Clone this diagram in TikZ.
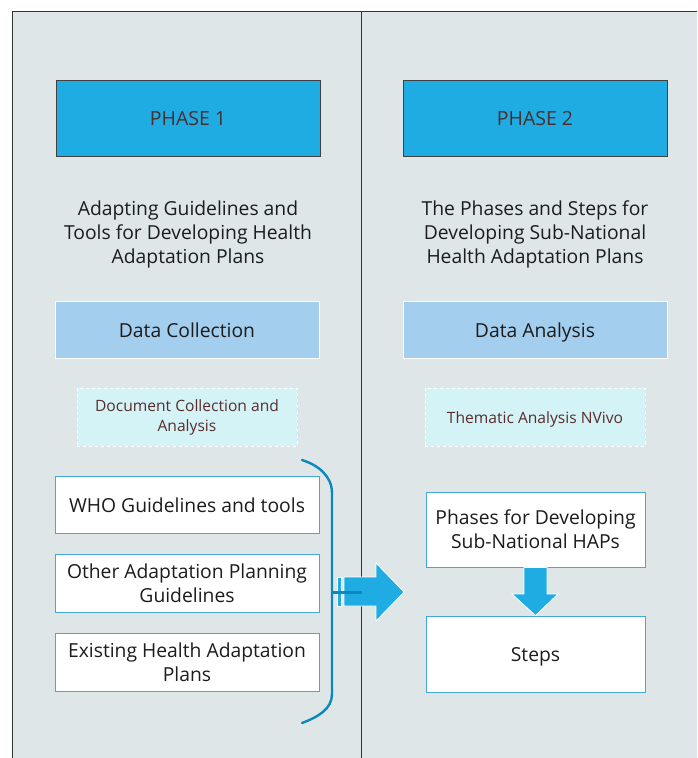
\documentclass[tikz,border=0pt]{standalone}
\usepackage{fontspec}
\setmainfont{Open Sans}
\definecolor{panelbg}{HTML}{DFE6E8}
\definecolor{phasefill}{HTML}{1EACE3}
\definecolor{datafill}{HTML}{A3CEED}
\definecolor{dashfill}{HTML}{D3F3F7}
\definecolor{dashtext}{HTML}{5B2C2C}
\definecolor{phasetext}{HTML}{4A2E2E}
\definecolor{boxline}{HTML}{45A8DC}
\definecolor{bracecol}{HTML}{0B88BE}
\definecolor{textcol}{HTML}{1C1C1C}
\begin{document}
\begin{tikzpicture}[x=1pt,y=-1pt,
  oneline/.style={text height=16pt,text depth=1pt},
  onesmall/.style={text height=13pt,text depth=1pt},
  phasebox/.style={draw=black!75,line width=0.6pt,fill=phasefill,minimum width=264pt,minimum height=76pt,inner sep=0pt,text=phasetext,oneline,font=\fontsize{19.5}{22}\selectfont},
  titletext/.style={align=center,text=textcol,font=\fontsize{19.3}{24}\selectfont,inner sep=0pt},
  databox/.style={draw=white,line width=0.8pt,fill=datafill,minimum width=264pt,minimum height=57pt,inner sep=0pt,text=textcol,oneline,font=\fontsize{19.3}{22}\selectfont},
  dashbox/.style={draw=white,dashed,line width=0.9pt,fill=dashfill,minimum width=220pt,minimum height=58pt,inner sep=0pt,text=dashtext,align=center,font=\fontsize{15.6}{20}\selectfont},
  whitebox/.style={draw=boxline,line width=0.9pt,fill=white,inner sep=0pt,text=textcol,align=center,font=\fontsize{19.3}{24}\selectfont},
  blockarrow/.style={fill=phasefill,draw=white,line width=0.8pt}
]
\useasboundingbox (0,0) rectangle (697,758);
% panels
\fill[panelbg] (12.5,11) rectangle (697,758);
\draw[black!80,line width=0.7pt] (12.5,758) -- (12.5,11) -- (697,11);
\draw[black!80,line width=0.7pt] (361,11) -- (361,758);

% phase boxes
\node[phasebox] (p1) at (188,118) {PHASE 1};
\node[phasebox] (p2) at (535,118) {PHASE 2};

% titles
\node[titletext] (t1) at (188,234) {Adapting Guidelines and\\Tools for Developing Health\\Adaptation Plans};
\node[titletext] (t2) at (535,234) {The Phases and Steps for\\Developing Sub-National\\Health Adaptation Plans};

% data boxes
\node[databox] (dc) at (187,330) {Data Collection};
\node[databox] (da) at (535,330) {Data Analysis};

% dashed boxes
\node[dashbox] (doc) at (187,417) {Document Collection and\\Analysis};
\node[dashbox,onesmall] (them) at (535,417) {Thematic Analysis NVivo};

% left white boxes
\node[whitebox,oneline,minimum width=264pt,minimum height=57pt] (who) at (187,504.5) {WHO Guidelines and tools};
\node[whitebox,minimum width=264pt,minimum height=58pt] (other) at (187,583) {Other Adaptation Planning\\Guidelines};
\node[whitebox,minimum width=264pt,minimum height=58pt] (exist) at (187,662) {Existing Health Adaptation\\Plans};

% right white boxes
\node[whitebox,minimum width=219pt,minimum height=75pt] (phases) at (535.5,529.5) {Phases for Developing\\Sub-National HAPs};
\node[whitebox,oneline,minimum width=219pt,minimum height=76pt] (steps) at (535.5,654) {Steps};

% brace
\coordinate (bt) at (302,460);
\coordinate (bb) at (302,723);
\coordinate (bm) at (332,592);
\draw[bracecol,line width=2.4pt,line cap=round] (bt) .. controls (318,465) and (332,476) .. (332,493) -- (332,694) .. controls (332,709) and (318,717) .. (bb);

% right block arrow
\coordinate (arrtip) at (404,592);
\fill[phasefill] (337.5,577) rectangle (341,606);
\draw[white,line width=0.8pt] (337.5,577) rectangle (341,606);
\draw[blockarrow] (344,577) -- (376,577) -- (376,563) -- (arrtip) -- (376,621) -- (376,606) -- (344,606) -- cycle;
\coordinate (lineend) at (362,592);
\draw[bracecol,line width=3pt] (bm) -- (lineend);

% down arrow
\draw[blockarrow] (phases.south -| 524,0) -- (phases.south -| 547,0) -- (547,594) -- (558,594) -- (steps.north) -- (512,594) -- (524,594) -- cycle;
\end{tikzpicture}
\end{document}
